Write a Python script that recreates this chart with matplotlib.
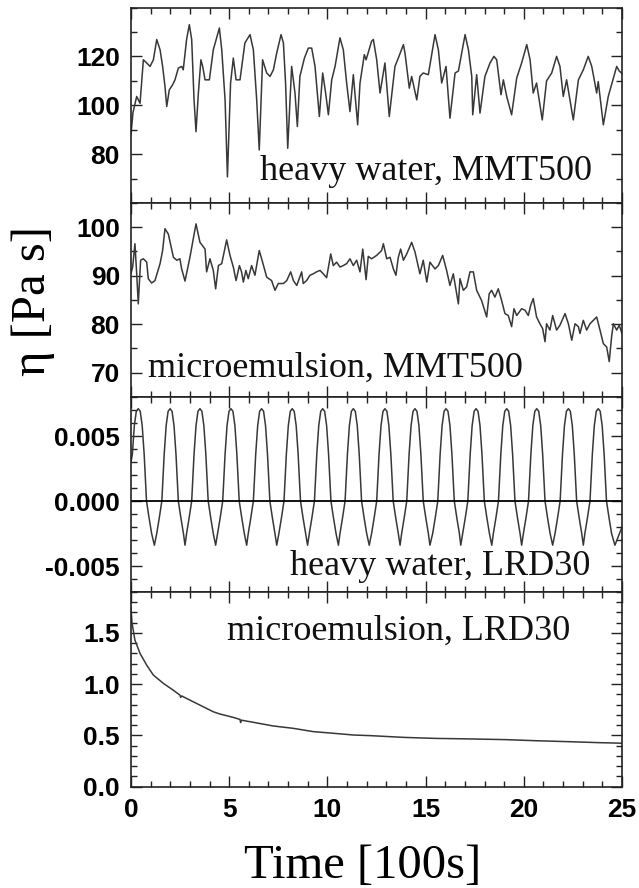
import matplotlib
matplotlib.use('Agg')
import matplotlib.pyplot as plt
from matplotlib.ticker import MultipleLocator, FormatStrFormatter

plt.rcParams['axes.unicode_minus'] = False

# ---------------- data ----------------
# Panel 1: heavy water, MMT500
t1 = [0.0, 0.1, 0.29, 0.46, 0.63, 0.80, 0.97, 1.14, 1.31, 1.48, 1.61, 1.73, 1.82, 1.95, 2.12, 2.24,
      2.41, 2.58, 2.66, 2.83, 2.97, 3.09, 3.21, 3.31, 3.43, 3.56, 3.65, 3.77, 3.99, 4.19, 4.50, 4.62,
      4.79, 4.91, 5.07, 5.21, 5.35, 5.55, 5.80, 6.06, 6.23, 6.40, 6.53, 6.70, 6.91, 7.08, 7.25, 7.42,
      7.64, 7.76, 7.87, 7.98, 8.18, 8.35, 8.47, 8.60, 8.83, 9.03, 9.20, 9.37, 9.59, 9.76, 9.91, 10.05,
      10.22, 10.39, 10.64, 10.81, 10.98, 11.15, 11.32, 11.54, 11.66, 11.88, 11.97, 12.25, 12.34, 12.51,
      12.68, 12.93, 13.15, 13.44, 13.61, 13.87, 13.95, 14.17, 14.29, 14.55, 14.71, 14.88, 15.14, 15.48,
      15.65, 15.82, 16.04, 16.24, 16.50, 16.67, 17.01, 17.18, 17.35, 17.40, 17.60, 17.77, 18.02, 18.28,
      18.48, 18.62, 18.84, 18.96, 19.13, 19.38, 19.64, 19.89, 20.15, 20.32, 20.48, 20.65, 20.94, 21.16,
      21.42, 21.67, 21.84, 22.01, 22.18, 22.52, 22.78, 23.03, 23.28, 23.46, 23.71, 23.79, 24.05, 24.30,
      24.47, 24.73, 24.86, 25.0]
v1 = [88, 97, 103.6, 100.8, 118.6, 117.3, 115.9, 118.6, 126.9, 122.7, 115.9, 107.7, 99.5, 106.3, 108.4, 110.4,
      115.2, 115.9, 114.5, 126.9, 133, 126.9, 102.2, 89.2, 105, 118.6, 115.9, 110.4, 110.4, 122.7, 131.6, 122.7,
      102.2, 70.7, 109.1, 119.3, 110.4, 110.4, 125.5, 128.9, 122.7, 102.2, 81.7, 118.6, 113.2, 111.8, 114.5, 121.4,
      128.9, 125.5, 109.1, 82.4, 115.9, 105, 91.3, 111.8, 119.3, 123.4, 123.4, 115.9, 95.4, 113.2, 105, 96.1,
      110.4, 115.9, 127.6, 122.7, 109.1, 97.4, 112.5, 92, 109.1, 120.7, 118.6, 126.2, 126.9, 118.6,
      105, 117.3, 95.4, 115.9, 119.3, 124.8, 121.4, 107, 111.8, 102.2, 111.8, 113.2, 112.5, 128.9,
      122.7, 109.1, 115.9, 94.7, 113.2, 114, 128.9, 122.7, 111.8, 96.1, 112.5, 96.8, 111.8, 117.3,
      120, 118.6, 104.3, 110.4, 103.6, 96.1, 111.2, 117.3, 124.8, 118.6, 105, 109.1, 94, 110,
      113.2, 120, 115.9, 103.6, 110.4, 94, 110.4, 114.5, 120, 115.9, 105, 109.7, 92, 103.6,
      108.4, 115.9, 114, 113]

# Panel 2: microemulsion, MMT500
t2 = [0.0, 0.085, 0.20, 0.29, 0.37, 0.49, 0.63, 0.80, 0.88, 1.05, 1.22, 1.48, 1.61, 1.73, 1.90, 2.16, 2.33,
      2.49, 2.58, 2.75, 3.00, 3.31, 3.51, 3.77, 3.85, 4.02, 4.19, 4.31, 4.45, 4.62, 4.87, 5.04, 5.21,
      5.35, 5.52, 5.63, 5.72, 5.85, 5.97, 6.14, 6.31, 6.53, 6.70, 6.91, 7.16, 7.33, 7.50, 7.76, 7.93,
      8.13, 8.27, 8.44, 8.69, 8.77, 8.94, 9.11, 9.28, 9.45, 9.62, 9.79, 9.96, 10.17, 10.30, 10.47, 10.64,
      10.81, 10.98, 11.15, 11.32, 11.49, 11.66, 11.80, 11.97, 12.08, 12.25, 12.51, 12.76, 12.85, 13.02,
      13.19, 13.36, 13.49, 13.61, 13.73, 13.87, 14.04, 14.29, 14.46, 14.63, 14.71, 14.88, 15.06, 15.22,
      15.48, 15.65, 15.87, 16.07, 16.24, 16.41, 16.67, 16.75, 16.92, 17.09, 17.26, 17.43, 17.60, 17.85,
      18.11, 18.24, 18.36, 18.53, 18.70, 18.87, 19.04, 19.21, 19.38, 19.50, 19.64, 19.89, 20.06, 20.23,
      20.35, 20.48, 20.65, 20.82, 20.96, 21.08, 21.16, 21.33, 21.47, 21.67, 21.84, 22.10, 22.27, 22.44,
      22.61, 22.78, 22.86, 23.03, 23.20, 23.37, 23.54, 23.71, 23.88, 24.05, 24.22, 24.35, 24.47, 24.56,
      24.73, 24.86, 25.0]
v2 = [90.5, 91.8, 96.6, 90.4, 84.2, 93.2, 93.5, 92.8, 89.4, 88.5, 89.0, 92.5, 95.2, 99.7, 98.6, 93.8, 93.2,
      93.5, 91.4, 88.9, 93.8, 100.7, 96.9, 95.5, 90.8, 93.5, 91.1, 87.3, 92.1, 92.5, 97.4, 94.2, 91.8,
      89.0, 92.1, 90.8, 88.7, 91.1, 89.4, 92.1, 90.1, 95.2, 92.8, 89.7, 89.0, 87.0, 88.4, 88.4, 89.0,
      90.8, 89.0, 88.0, 90.8, 88.4, 89.0, 90.1, 90.4, 90.8, 91.1, 90.4, 89.6, 94.5, 92.1, 92.8, 91.8,
      92.1, 92.5, 93.5, 92.1, 93.2, 90.8, 95.5, 89.2, 94.0, 93.5, 94.2, 95.2, 96.6, 93.5,
      93.8, 91.4, 90.1, 93.8, 95.5, 93.2, 94.5, 96.9, 94.9, 91.8, 90.4, 93.2, 88.7, 92.8,
      91.4, 92.1, 94.2, 91.1, 88.0, 90.4, 84.2, 89.4, 87.0, 87.7, 90.8, 90.8, 87.0, 84.9,
      81.5, 86.3, 87.0, 85.6, 87.3, 84.9, 82.2, 81.8, 79.5, 83.2, 81.8, 83.2, 82.9, 81.8,
      83.9, 85.3, 81.5, 80.1, 79.1, 76.4, 80.1, 78.8, 81.8, 78.8, 79.8, 82.2, 80.1, 76.7,
      80.1, 79.5, 78.1, 80.8, 78.8, 80.1, 80.8, 81.5, 78.8, 76.0, 75.3, 72.3, 77.4, 80.1,
      78.8, 79.8, 78.1]

# Panel 3: heavy water, LRD30 -- read peak / trough times and one cycle's profile
peak_t = [0.37, 1.99, 3.51, 5.09, 6.65, 8.21, 9.76, 11.32, 12.93, 14.46, 16.04, 17.57, 19.13, 20.66, 22.27, 23.79]
trough_t = [1.19, 2.75, 4.31, 5.89, 7.42, 8.99, 10.56, 12.13, 13.70, 15.22, 16.79, 18.37, 19.89, 21.47, 23.03, 24.64]
trough_v = -0.0034
# profile around a peak, read from the first cycles: offset from peak [100s] -> value
prof_off = [0.0, 0.1, 0.2, 0.3, 0.42, 0.55, 0.68]
prof_val = [0.0071, 0.0069, 0.0058, 0.0036, 0.0, -0.0013, -0.0025]
t3_start, v3_start = 0.0, 0.0030
t3_end, v3_end = 25.0, -0.0020

# Panel 4: microemulsion, LRD30
t4 = [0.0, 0.05, 0.20, 0.46, 0.80, 1.14, 1.65, 2.16, 2.49, 2.53, 2.58, 2.83, 3.51, 4.19, 4.53, 5.21,
      5.55, 5.58, 5.62, 6.23, 7.25, 8.27, 9.28, 10.30, 11.32, 12.17, 13.87, 15.48, 17.2, 19.04,
      20.65, 22.27, 23.88, 25.0]
v4 = [1.75, 1.60, 1.43, 1.30, 1.185, 1.088, 1.007, 0.94, 0.893, 0.87, 0.885, 0.86, 0.795, 0.73, 0.708, 0.675,
      0.655, 0.625, 0.648, 0.627, 0.591, 0.568, 0.536, 0.52, 0.503, 0.497, 0.48, 0.47, 0.465, 0.458,
      0.447, 0.438, 0.428, 0.423]

labels = ["heavy water, MMT500", "microemulsion, MMT500", "heavy water, LRD30", "microemulsion, LRD30"]
xticks = [0, 5, 10, 15, 20, 25]

# ---------------- assemble panel 3 line from read points ----------------
pts = [(t3_start, v3_start)]
for pt in peak_t:
    for off, val in zip(prof_off, prof_val):
        if off == 0:
            pts.append((pt, val))
        else:
            for sgn in (-1, 1):
                tt = pt + sgn * off
                if 0 < tt < 25:
                    pts.append((tt, val))
for tt in trough_t:
    pts.append((tt, trough_v))
pts.append((t3_end, v3_end))
pts.sort()
t3 = [p[0] for p in pts if p[0] <= trough_t[-1] or p[0] == t3_end]
v3 = [p[1] for p in pts if p[0] <= trough_t[-1] or p[0] == t3_end]

# ---------------- figure ----------------
W, H = 639, 888
fig = plt.figure(figsize=(W / 100, H / 100), dpi=100)
edges = [7.5, 203, 397, 592, 786.5]
left_px, right_px = 131, 622

serif = ['Liberation Serif', 'DejaVu Serif']

specs = [
    dict(t=t1, v=v1, ylim=(60, 140), ticks=[80, 100, 120], minor=10, fmt='%d', txt=(0.263, 0.118)),
    dict(t=t2, v=v2, ylim=(65, 105), ticks=[70, 80, 90, 100], minor=5, fmt='%d', txt=(0.035, 0.105)),
    dict(t=t3, v=v3, ylim=(-0.007, 0.008), ticks=[-0.005, 0.0, 0.005], minor=0.001, fmt='%.3f', txt=(0.324, 0.087)),
    dict(t=t4, v=v4, ylim=(0, 1.9), ticks=[0.0, 0.5, 1.0, 1.5], minor=0.1, fmt='%.1f', txt=(0.195, 0.753)),
]

for i, s in enumerate(specs):
    top, bot = edges[i], edges[i + 1]
    ax = fig.add_axes([left_px / W, (H - bot) / H, (right_px - left_px) / W, (bot - top) / H])
    ax.plot(s['t'], s['v'], color='#383838', lw=1.1)
    if i == 2:
        ax.axhline(0, color='black', lw=1.3)
    ax.set_xlim(0, 25)
    ax.set_ylim(*s['ylim'])
    ax.xaxis.set_major_locator(MultipleLocator(5))
    ax.xaxis.set_minor_locator(MultipleLocator(1))
    ax.set_yticks(s['ticks'])
    ax.yaxis.set_minor_locator(MultipleLocator(s['minor']))
    ax.yaxis.set_major_formatter(FormatStrFormatter(s['fmt']))
    ax.tick_params(which='both', direction='in', top=True, right=True, width=1.0, color='#222222')
    ax.tick_params(which='major', length=8, pad=8)
    ax.tick_params(which='minor', length=4.5)
    for sp in ax.spines.values():
        sp.set_linewidth(1.2)
        sp.set_color('#222222')
    for lab in ax.get_yticklabels():
        lab.set_fontfamily('Liberation Sans')
        lab.set_fontweight('bold')
        lab.set_fontsize(19)
    if i < 3:
        ax.set_xticklabels([])
    else:
        ax.set_xticks(xticks)
        ax.set_xticklabels([str(x) for x in xticks], fontfamily='Liberation Sans',
                           fontweight='bold', fontsize=19)
    ax.text(s['txt'][0], s['txt'][1], labels[i], transform=ax.transAxes, ha='left', va='baseline',
            family=serif, fontsize=26, color='#111111')

fig.text(363 / W, (H - 878) / H, 'Time [100s]', ha='center', va='baseline', family=serif, fontsize=35)
fig.text(33 / W, (H - 301) / H, 'η [Pa s]', ha='center', va='center', rotation=90, family=serif, fontsize=35)

fig.savefig('out.png', dpi=100)
